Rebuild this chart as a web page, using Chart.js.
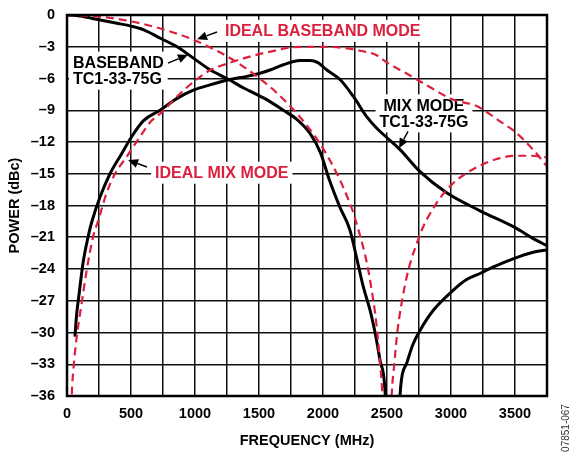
<!DOCTYPE html>
<html>
<head>
<meta charset="utf-8">
<script src="https://cdn.jsdelivr.net/npm/chart.js@4/dist/chart.umd.min.js"></script>
<style>
  html, body { margin: 0; padding: 0; background: #fff; }
  #wrap { width: 572px; height: 454px; position: relative; }
</style>
</head>
<body>
<div id="wrap"><canvas id="chart"></canvas></div>
<script>
// Axis ticks
const xTicks = [0, 500, 1000, 1500, 2000, 2500, 3000, 3500];
const yTicks = [0, -3, -6, -9, -12, -15, -18, -21, -24, -27, -30, -33, -36];

// Measured baseband (TC1-33-75G)
const bbFreq = [0, 100, 250, 400, 500, 600, 730, 860, 990, 1120, 1250, 1380, 1430, 1560, 1690, 1800, 1900, 1980, 2050, 2130, 2210, 2260, 2315, 2370, 2410, 2445, 2488, 2545, 2600, 2654, 2700, 2758, 2862, 3018, 3122, 3230, 3331, 3450, 3539, 3650, 3750];
const bbPower = [0, -0.1, -0.45, -0.8, -1.05, -1.4, -2.2, -3.0, -4.1, -5.2, -6.0, -6.9, -7.2, -8.0, -9.0, -9.9, -11.2, -13.0, -15.6, -18.1, -20.3, -22.8, -25.7, -28.0, -30.2, -32.6, -36.2, -60, -36.2, -32.9, -31.2, -29.8, -27.9, -26.0, -25.0, -24.4, -23.8, -23.2, -22.8, -22.4, -22.2];

// Measured mix mode (TC1-33-75G)
const mixFreq = [62, 76, 90, 127, 166, 190, 258, 336, 427, 505, 596, 727, 857, 987, 1117, 1273, 1404, 1508, 1586, 1690, 1820, 1900, 1960, 2030, 2133, 2237, 2341, 2420, 2500, 2600, 2758, 2966, 3227, 3487, 3669, 3750];
const mixPower = [-30.4, -28.2, -26.8, -23.3, -20.9, -19.7, -17.2, -15.0, -13.1, -11.5, -10.0, -9.0, -7.9, -7.1, -6.6, -6.1, -5.8, -5.5, -5.2, -4.7, -4.3, -4.3, -4.5, -5.2, -6.1, -7.7, -9.6, -10.7, -11.6, -12.7, -14.8, -16.8, -18.5, -20.0, -21.3, -21.8];

// Ideal baseband mode
const idealBbFreq = [0, 250, 500, 750, 1000, 1250, 1375, 1500, 1625, 1750, 1875, 2000, 2125, 2190, 2250, 2375, 2440, 2475, 2500, 2525, 2560, 2625, 2750, 2875, 3000, 3125, 3250, 3375, 3500, 3625, 3750];
const idealBbPower = [0, -0.15, -0.6, -1.35, -2.4, -3.9, -4.85, -5.95, -7.2, -8.7, -10.45, -12.6, -15.4, -17.2, -19.2, -25.6, -32.2, -40, -60, -40, -32.6, -26.5, -21.0, -18.0, -16.1, -14.9, -14.1, -13.55, -13.3, -13.3, -13.45];

// Ideal mix mode
const idealMixFreq = [25, 37, 50, 76, 115, 154, 205, 245, 310, 375, 466, 570, 660, 730, 860, 990, 1120, 1250, 1380, 1500, 1650, 1750, 1900, 2000, 2150, 2300, 2420, 2500, 2650, 2784, 3016, 3200, 3400, 3487, 3643, 3750];
const idealMixPower = [-42, -36, -33.5, -30.4, -27.2, -24.1, -20.9, -19.4, -16.8, -15.0, -13.4, -11.5, -10.0, -9.3, -7.7, -6.3, -5.2, -4.6, -4.1, -3.7, -3.3, -3.05, -3.0, -3.0, -3.1, -3.4, -3.8, -4.5, -5.5, -6.45, -8.0, -8.6, -10.2, -10.9, -12.75, -14.3];

const RED = '#dc1f3c';
const FONT = '"Liberation Sans", Arial, sans-serif';

const toPoints = (xs, ys) => xs.map((x, i) => ({ x: x, y: ys[i] }));

// Callout labels (positions in data units)
const labels = [
  { lines: ['IDEAL BASEBAND MODE'], color: RED, x: 1234, y: -1.5, align: 'left',
    arrow: { from: [1172, -1.6], to: [1016, -2.3] } },
  { lines: ['BASEBAND', 'TC1-33-75G'], color: '#000', x: 47, y: -5.25, align: 'left',
    arrow: { from: [789, -4.55], to: [945, -3.75] } },
  { lines: ['MIX MODE', 'TC1-33-75G'], color: '#000', x: 2789, y: -9.3, align: 'center',
    arrow: { from: [2664, -11.0], to: [2594, -12.6] } },
  { lines: ['IDEAL MIX MODE'], color: RED, x: 688, y: -14.9, align: 'left',
    arrow: { from: [625, -14.36], to: [477, -13.7] } }
];

const calloutPlugin = {
  id: 'callouts',
  beforeDatasetsDraw(chart) {
    const { ctx, scales: { x, y } } = chart;
    ctx.save();
    ctx.font = 'bold 16px ' + FONT;
    ctx.textBaseline = 'middle';
    labels.forEach(l => {
      const px = x.getPixelForValue(l.x);
      const py = y.getPixelForValue(l.y);
      const lh = 16;
      const w = Math.max(...l.lines.map(t => ctx.measureText(t).width));
      const h = lh * l.lines.length;
      const left = l.align === 'center' ? px - w / 2 : px;
      ctx.fillStyle = '#fff';
      ctx.fillRect(left - 4, py - h / 2 - 3, w + 8, h + 6);
      ctx.fillStyle = l.color;
      ctx.textAlign = l.align;
      l.lines.forEach((t, i) => {
        ctx.fillText(t, px, py - h / 2 + lh / 2 + i * lh + 1);
      });
    });
    ctx.restore();
  },
  afterDatasetsDraw(chart) {
    const { ctx, scales: { x, y } } = chart;
    ctx.save();
    labels.forEach(l => {
      const x1 = x.getPixelForValue(l.arrow.from[0]);
      const y1 = y.getPixelForValue(l.arrow.from[1]);
      const x2 = x.getPixelForValue(l.arrow.to[0]);
      const y2 = y.getPixelForValue(l.arrow.to[1]);
      const ang = Math.atan2(y2 - y1, x2 - x1);
      const len = 10, hw = 4.5;
      ctx.strokeStyle = '#000';
      ctx.fillStyle = '#000';
      ctx.lineWidth = 1.5;
      ctx.beginPath();
      ctx.moveTo(x1, y1);
      ctx.lineTo(x2 - Math.cos(ang) * len, y2 - Math.sin(ang) * len);
      ctx.stroke();
      ctx.beginPath();
      ctx.moveTo(x2, y2);
      ctx.lineTo(x2 - Math.cos(ang) * len - Math.sin(ang) * hw, y2 - Math.sin(ang) * len + Math.cos(ang) * hw);
      ctx.lineTo(x2 - Math.cos(ang) * len + Math.sin(ang) * hw, y2 - Math.sin(ang) * len - Math.cos(ang) * hw);
      ctx.closePath();
      ctx.fill();
    });
    ctx.restore();
  },
  afterDraw(chart) {
    const { ctx, chartArea: a } = chart;
    ctx.save();
    // frame round the plot
    ctx.strokeStyle = '#000';
    ctx.lineWidth = 2.5;
    ctx.strokeRect(a.left, a.top, a.right - a.left, a.bottom - a.top);
    // figure number
    ctx.translate(566, 428);
    ctx.rotate(-Math.PI / 2);
    ctx.font = '10px ' + FONT;
    ctx.fillStyle = '#333';
    ctx.textAlign = 'center';
    ctx.textBaseline = 'middle';
    ctx.fillText('07851-067', 0, 0);
    ctx.restore();
  }
};

const solid = (data) => ({
  data: data, borderColor: '#000', borderWidth: 3, pointRadius: 0,
  cubicInterpolationMode: 'monotone', fill: false, clip: 0
});
const dashed = (data) => ({
  data: data, borderColor: RED, borderWidth: 2.2, borderDash: [8, 5], pointRadius: 0,
  cubicInterpolationMode: 'monotone', fill: false, clip: 0
});

new Chart(document.getElementById('chart'), {
  type: 'scatter',
  data: {
    datasets: [
      Object.assign(dashed(toPoints(idealBbFreq, idealBbPower)), { label: 'IDEAL BASEBAND MODE', showLine: true }),
      Object.assign(dashed(toPoints(idealMixFreq, idealMixPower)), { label: 'IDEAL MIX MODE', showLine: true }),
      Object.assign(solid(toPoints(bbFreq, bbPower)), { label: 'BASEBAND TC1-33-75G', showLine: true }),
      Object.assign(solid(toPoints(mixFreq, mixPower)), { label: 'MIX MODE TC1-33-75G', showLine: true })
    ]
  },
  options: {
    responsive: true,
    maintainAspectRatio: false,
    animation: false,
    layout: { padding: { top: 15, right: 25, left: 0, bottom: 4 } },
    plugins: { legend: { display: false }, tooltip: { enabled: false } },
    scales: {
      x: {
        type: 'linear', min: 0, max: 3750,
        afterFit: s => { s.height = 54; s.paddingLeft = 0; s.paddingRight = 0; },
        afterBuildTicks: s => { s.ticks = []; for (let v = 0; v <= 3750; v += 250) s.ticks.push({ value: v }); },
        ticks: {
          autoSkip: false, maxRotation: 0, padding: 9, color: '#000',
          font: { family: FONT, size: 14.5, weight: 'bold' },
          callback: v => xTicks.includes(v) ? String(v) : ''
        },
        grid: { color: '#111', lineWidth: 1.5, drawTicks: false },
        border: { display: false },
        title: {
          display: true, text: 'FREQUENCY (MHz)', color: '#000', padding: { top: 0, bottom: 0 },
          font: { family: FONT, size: 14.5, weight: 'bold' }
        }
      },
      y: {
        type: 'linear', min: -36, max: 0,
        afterFit: s => { s.width = 67; s.paddingTop = 0; s.paddingBottom = 0; },
        afterBuildTicks: s => { s.ticks = yTicks.map(v => ({ value: v })); },
        ticks: {
          padding: 12, color: '#000',
          font: { family: FONT, size: 14.5, weight: 'bold' },
          callback: v => v === 0 ? '0' : '\u2013' + Math.abs(v)
        },
        grid: { color: '#111', lineWidth: 1.5, drawTicks: false },
        border: { display: false },
        title: {
          display: true, text: 'POWER (dBc)', color: '#000', padding: { top: 6, bottom: 0 },
          font: { family: FONT, size: 14.5, weight: 'bold' }
        }
      }
    }
  },
  plugins: [calloutPlugin]
});
</script>
</body>
</html>
